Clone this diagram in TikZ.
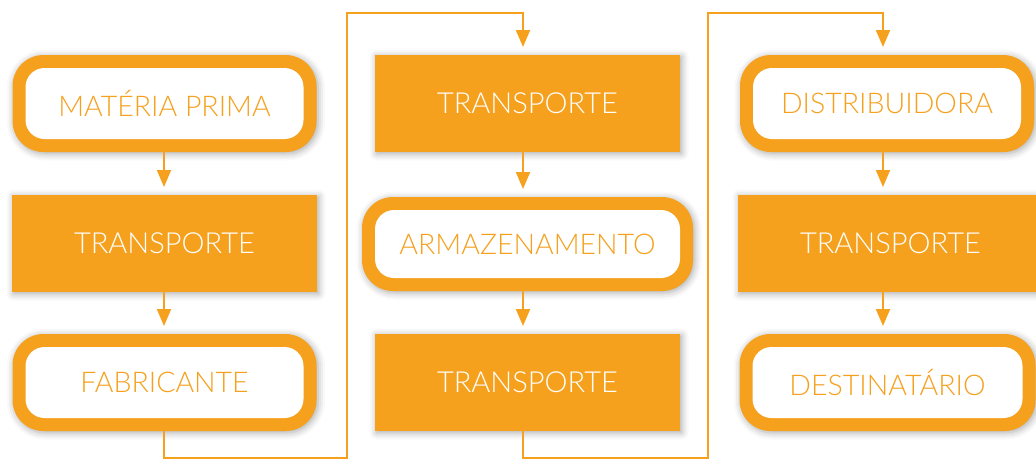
\documentclass[tikz,border=0pt]{standalone}
\usepackage{fontspec}
\setmainfont{Lato Light}
\usetikzlibrary{arrows.meta, positioning, shadows.blur}
\definecolor{laranja}{RGB}{245,161,30}

\begin{document}
\begin{tikzpicture}[x=1pt, y=1pt, ->, >={Triangle[width=14pt,length=17pt]}, shorten >=8pt,
		line width=2pt, draw=laranja,
		sombra/.style={blur shadow={shadow xshift=1.5pt, shadow yshift=-1.5pt, shadow blur radius=7pt, shadow opacity=35}},
		etapa/.style={rectangle, rounded corners=31pt, fill=laranja, sombra, inner sep=0pt, outer sep=0pt,
			minimum height=97pt, text=laranja, font=\fontsize{28.5}{34}\selectfont,
			path picture={\fill[white, rounded corners=19pt]
				([shift={(13pt,13pt)}]path picture bounding box.south west) rectangle
				([shift={(-13pt,-13pt)}]path picture bounding box.north east);}},
		transp/.style={rectangle, fill=laranja, sombra, inner sep=0pt, outer sep=0pt,
			minimum width=305pt, minimum height=97pt, text=white, font=\fontsize{29}{34}\selectfont}]

	\useasboundingbox (0,0) rectangle (1036,-459);

	% coluna 1
	\node [transp]						(t1)	at (164.5,-243.5)		{TRANSPORTE};
	\node [etapa, minimum width=304pt]	(mp)	[above=43pt of t1]		{MATÉRIA PRIMA};
	\node [etapa, minimum width=304pt]	(fab)	[below=42pt of t1]		{FABRICANTE};

	% coluna 2
	\node [etapa, minimum width=331pt, minimum height=94pt]	(arm)	at (527.5,-244)		{ARMAZENAMENTO};
	\node [transp]						(t2)	[above=45pt of arm]		{TRANSPORTE};
	\node [transp]						(t3)	[below=43pt of arm]		{TRANSPORTE};

	% coluna 3
	\node [transp]						(t4)	at (890.5,-243.5)		{TRANSPORTE};
	\node [etapa, minimum width=294pt]	(dist)	[above=43pt of t4, xshift=-3.5pt]	{DISTRIBUIDORA};
	\node [etapa, minimum width=296pt]	(dest)	[below=42pt of t4, xshift=-3pt]		{DESTINATÁRIO};

	\coordinate (eixo1) at (164,0);
	\coordinate (eixo2) at (523,0);
	\coordinate (eixo3) at (883,0);
	\coordinate (b1) at (347,-458);
	\coordinate (c1) at (347,-13);
	\coordinate (b2) at (708,-458);
	\coordinate (c2) at (708,-13);

	\draw (mp.south -| eixo1) -- (t1.north -| eixo1);
	\draw (t1.south -| eixo1) -- (fab.north -| eixo1);
	\draw (t2.south -| eixo2) -- (arm.north -| eixo2);
	\draw (arm.south -| eixo2) -- (t3.north -| eixo2);
	\draw (dist.south -| eixo3) -- (t4.north -| eixo3);
	\draw (t4.south -| eixo3) -- (dest.north -| eixo3);

	\draw (fab.south -| eixo1) |- (b1) -- (c1) -| (t2.north -| eixo2);
	\draw (t3.south -| eixo2) |- (b2) -- (c2) -| (dist.north -| eixo3);

\end{tikzpicture}
\end{document}
